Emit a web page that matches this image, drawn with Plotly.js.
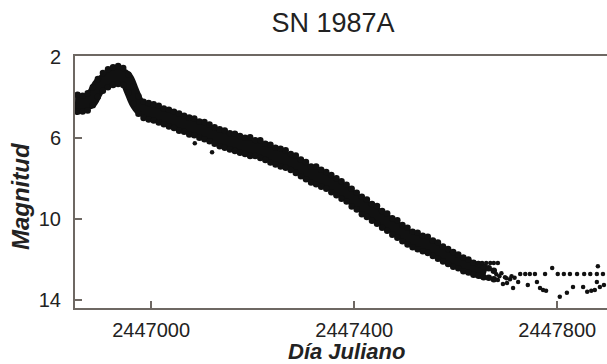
<!DOCTYPE html>
<html>
<head>
<meta charset="utf-8">
<script src="https://cdn.plot.ly/plotly-3.0.1.min.js"></script>
<style>html,body{margin:0;padding:0;background:#fff;}#chart{width:607px;height:364px;}</style>
</head>
<body>
<div id="chart"></div>
<script>
// Central ridge of the light curve (Julian day, visual magnitude)
const coreJD = [2446850,2446860,2446870,2446880,2446890,2446900,2446910,2446920,2446930,2446940,
2446950,2446960,2446970,2446980,2446990,2447000,2447010,2447020,2447030,2447040,
2447050,2447060,2447070,2447080,2447090,2447100,2447110,2447120,2447130,2447140,
2447150,2447160,2447170,2447180,2447190,2447200,2447210,2447220,2447230,2447240,
2447250,2447260,2447270,2447280,2447290,2447300,2447310,2447320,2447330,2447340,
2447350,2447360,2447370,2447380,2447390,2447400,2447410,2447420,2447430,2447440,
2447450,2447460,2447470,2447480,2447490,2447500,2447510,2447520,2447530,2447540,
2447550,2447560,2447570,2447580,2447590,2447600,2447610,2447620,2447630,2447640,
2447650,2447660];
const coreMag = [4.30,4.30,4.28,4.20,3.75,3.35,3.15,3.00,2.92,2.90,
3.05,3.60,4.20,4.55,4.65,4.72,4.79,4.88,4.98,5.08,
5.18,5.27,5.36,5.44,5.52,5.62,5.72,5.82,5.95,6.06,
6.12,6.20,6.28,6.36,6.42,6.48,6.53,6.62,6.75,6.85,
6.95,7.03,7.10,7.25,7.40,7.55,7.75,7.85,7.92,8.05,
8.20,8.35,8.52,8.65,8.85,9.05,9.25,9.42,9.58,9.75,
9.92,10.10,10.28,10.45,10.62,10.80,10.96,11.08,11.18,11.28,
11.38,11.52,11.68,11.85,11.95,12.08,12.20,12.32,12.42,12.52,
12.60,12.68];

// Bright and faint edges of the band of observations
const edgeJD = [2446855,2446865,2446875,2446885,2446895,2446905,2446915,2446925,2446935,2446945,
2446955,2446965,2446975,2446985,2446995,2447005,2447015,2447025,2447035,2447045,
2447055,2447065,2447075,2447085,2447095,2447105,2447115,2447125,2447135,2447145,
2447155,2447165,2447175,2447185,2447195,2447205,2447215,2447225,2447235,2447245,
2447255,2447265,2447275,2447285,2447295,2447305,2447315,2447325,2447335,2447345,
2447355,2447365,2447375,2447385,2447395,2447405,2447415,2447425,2447435,2447445,
2447455,2447465,2447475,2447485,2447495,2447505,2447515,2447525,2447535,2447545,
2447555,2447565,2447575,2447585,2447595,2447605,2447615,2447625,2447635,2447645,
2447655,2447665,2447675];
const brightMag = [3.88,3.92,3.80,3.50,3.10,2.80,2.62,2.52,2.45,2.55,
2.88,3.45,3.95,4.22,4.28,4.34,4.42,4.55,4.62,4.72,
4.80,4.92,5.00,5.05,5.20,5.22,5.35,5.48,5.58,5.64,
5.78,5.80,5.92,6.00,5.98,6.12,6.12,6.30,6.35,6.50,
6.55,6.62,6.80,6.88,7.08,7.20,7.42,7.42,7.58,7.70,
7.85,8.00,8.15,8.32,8.52,8.72,8.92,9.05,9.28,9.38,
9.62,9.75,9.98,10.08,10.32,10.45,10.65,10.70,10.85,10.90,
11.08,11.18,11.38,11.50,11.65,11.78,11.92,12.02,12.18,12.25,
12.38,12.45,12.58];
const faintMag = [4.72,4.70,4.66,4.40,3.98,3.68,3.50,3.40,3.35,3.40,
3.75,4.32,4.82,5.02,5.10,5.15,5.25,5.34,5.45,5.52,
5.66,5.70,5.84,5.88,6.00,6.08,6.18,6.30,6.42,6.50,
6.58,6.66,6.74,6.80,6.90,6.90,7.00,7.10,7.22,7.32,
7.42,7.48,7.60,7.75,7.90,8.06,8.22,8.30,8.42,8.52,
8.70,8.85,9.02,9.15,9.40,9.55,9.78,9.92,10.10,10.25,
10.45,10.60,10.80,10.95,11.12,11.28,11.42,11.52,11.62,11.70,
11.85,11.98,12.12,12.25,12.38,12.45,12.60,12.66,12.78,12.82,
12.90,12.93,13.00];

// Sparse late observations and outliers
const sparseJD = [2447086,2447120,
2447644,2447652,2447660,2447668,2447675,2447683,
2447727,2447737,2447746,2447756,2447776,2447790,2447801,2447813,2447825,2447839,2447853,2447865,2447878,2447890,
2447880,
2447683,2447693,2447697,2447701,2447707,2447713,2447723,2447742,2447760,2447766,2447772,2447778,
2447805,2447819,2447831,2447851,2447859,2447867,2447874,2447884,2447892,2447878,
2447680,2447686,2447690,2447700,2447710,2447716];
const sparseMag = [6.27,6.72,
12.20,12.20,12.20,12.20,12.20,12.20,
12.74,12.74,12.74,12.74,12.74,12.44,12.74,12.74,12.74,12.74,12.74,12.74,12.74,12.74,
12.35,
13.04,13.23,12.90,13.19,13.00,13.43,13.14,13.28,13.14,13.43,13.53,13.57,
13.86,13.67,13.38,13.38,13.62,13.57,13.53,13.38,13.28,13.14,
12.75,12.85,12.70,12.95,12.85,12.92];

const yTicks = [2, 6, 10, 14];
const xTicks = [2447000, 2447400, 2447800];
const xTickText = ['2447000', '2447400', '2447800'];

const axisColor = '#6e6863';
const ink = '#111111';

const traces = [
  {x: coreJD, y: coreMag, type: 'scatter', mode: 'lines',
   line: {color: ink, width: 15, shape: 'spline'}, hoverinfo: 'skip'},
  {x: edgeJD, y: brightMag, type: 'scatter', mode: 'markers',
   marker: {color: ink, size: 6.5}},
  {x: edgeJD, y: faintMag, type: 'scatter', mode: 'markers',
   marker: {color: ink, size: 6.5}},
  {x: sparseJD, y: sparseMag, type: 'scatter', mode: 'markers',
   marker: {color: ink, size: 4.5}}
];

const layout = {
  width: 607, height: 364,
  margin: {l: 75, r: 0, t: 56, b: 56},
  paper_bgcolor: '#ffffff', plot_bgcolor: '#ffffff',
  showlegend: false,
  font: {family: 'Liberation Sans, Arial, sans-serif', color: '#222222'},
  title: {text: 'SN 1987A', font: {size: 27, color: '#222222'},
          x: 0.5486, xref: 'container', xanchor: 'center',
          y: 0.938, yref: 'container', yanchor: 'middle'},
  xaxis: {
    range: [2446850, 2447898], showgrid: false, zeroline: false,
    showline: true, mirror: true, linecolor: axisColor, linewidth: 2,
    ticks: 'inside', ticklen: 7, tickwidth: 2, tickcolor: axisColor,
    tickvals: xTicks, ticktext: xTickText, ticklabelstandoff: 3,
    tickfont: {size: 20, color: '#222222'}
  },
  yaxis: {
    range: [14.42, 1.96], showgrid: false, zeroline: false,
    showline: true, linecolor: axisColor, linewidth: 2,
    ticks: 'inside', ticklen: 7, tickwidth: 2, tickcolor: axisColor,
    tickvals: yTicks, ticklabelstandoff: 8,
    tickfont: {size: 20, color: '#222222'}
  },
  annotations: [
    {text: '<b><i>Día Juliano</i></b>', xref: 'paper', yref: 'paper',
     x: 0.511, y: -0.174, xanchor: 'center', yanchor: 'middle', showarrow: false,
     font: {size: 22, color: '#222222'}},
    {text: '<b><i>Magnitud</i></b>', xref: 'paper', yref: 'paper', textangle: -90,
     x: -0.1034, y: 0.444, xanchor: 'center', yanchor: 'middle', showarrow: false,
     font: {size: 24, color: '#222222'}}
  ]
};

Plotly.newPlot('chart', traces, layout, {displayModeBar: false, staticPlot: true});
</script>
</body>
</html>
